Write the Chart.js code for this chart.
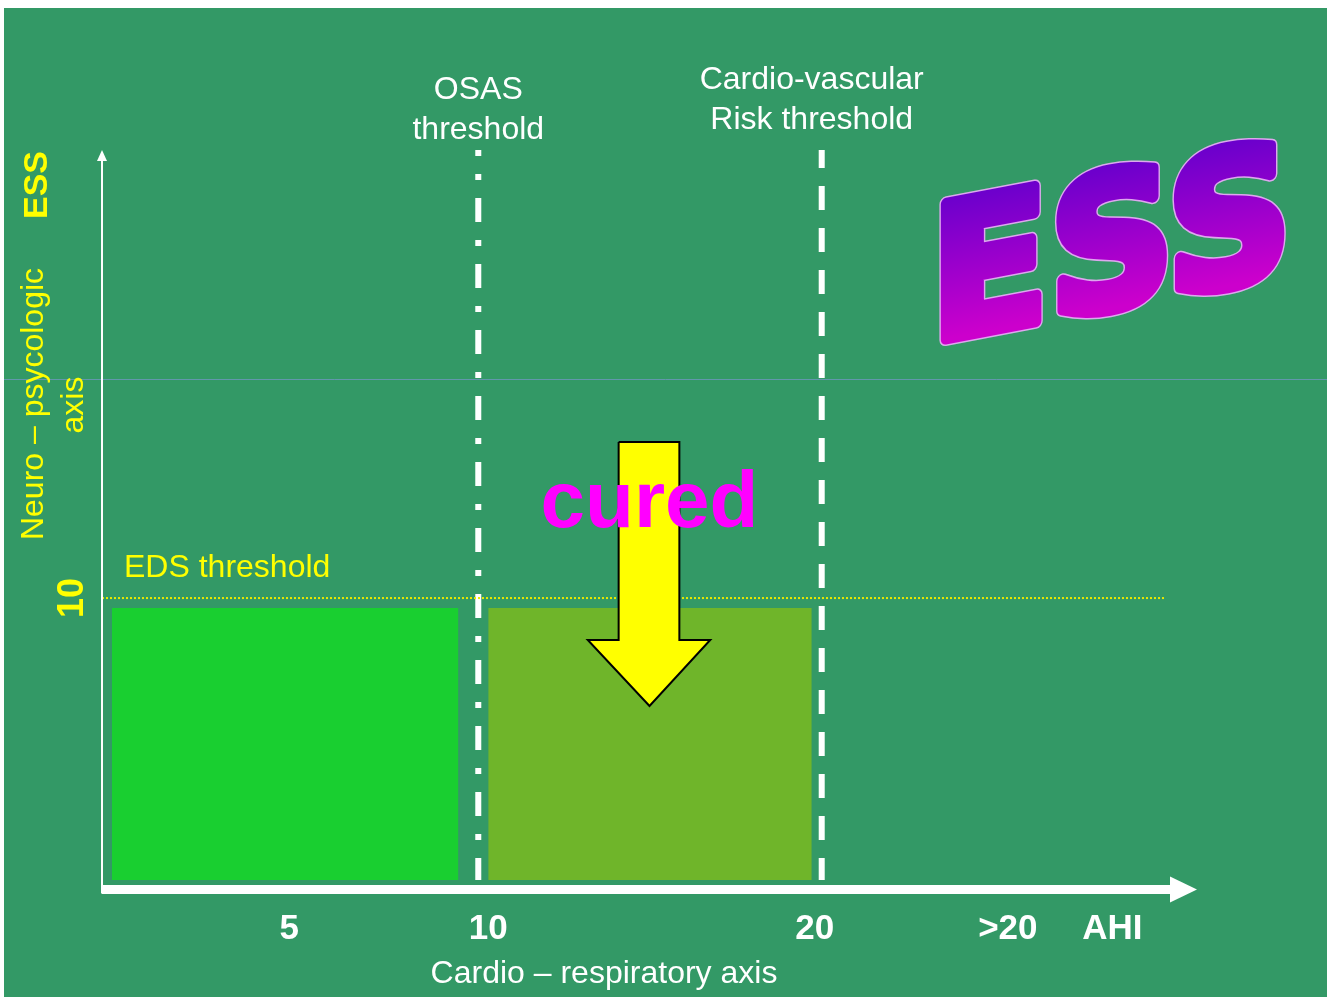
<!DOCTYPE html>
<html>
<head>
<meta charset="utf-8">
<title>ESS / AHI</title>
<script src="https://cdn.jsdelivr.net/npm/chart.js@4.4.1/dist/chart.umd.min.js"></script>
<style>
    html, body { margin: 0; padding: 0; background: #ffffff; overflow: hidden; }
    #wrap { width: 1331px; height: 997px; }
</style>
</head>
<body>
<div id="wrap"><canvas id="essChart" width="1331" height="997"></canvas></div>
<script>
// ===============================
// Data (AHI on x, ESS on y)
// ===============================
const ahiAxisMax = 110;
const essAxisMax = 25.4;

const xTickPos = [18.8, 38.8, 71.6, 91.0, 101.5];
const xTickLabels = ['5', '10', '20', '>20', 'AHI'];

// green zones under the EDS threshold
const zoneLabels = ['AHI < 10', 'AHI 10-20'];
const zoneStart = [1.0, 38.8];
const zoneEnd = [35.8, 71.3];
const zoneTop = [9.66, 9.66];
const zoneBase = 0.31;

// vertical thresholds
const thresholdNames = [['OSAS', 'threshold'], ['Cardio-vascular', 'Risk threshold']];
const thresholdX = [37.8, 72.3];

// horizontal EDS threshold
const edsThreshold = 10;
const edsEnd = 106.8;

// "cured" arrow outline
const arrowX = [51.9, 58.0, 58.0, 61.1, 55.0, 48.8, 51.9, 51.9];
const arrowY = [15.36, 15.36, 8.56, 8.56, 6.29, 8.56, 8.56, 15.36];

const FONT = '"Liberation Sans", Arial, sans-serif';
const BG = '#339966';
const YELLOW = '#ffff00';

// ===============================
// Slide decorations plugin
// ===============================
const slidePlugin = {
    id: 'slideDecor',
    beforeDraw(chart) {
        const ctx = chart.ctx;
        ctx.save();
        ctx.fillStyle = '#ffffff';
        ctx.fillRect(0, 0, chart.width, chart.height);
        ctx.fillStyle = BG;
        ctx.fillRect(4, 8, 1323, 989);
        // faint seam line across the slide
        ctx.strokeStyle = 'rgba(110,150,190,0.8)';
        ctx.lineWidth = 1;
        ctx.beginPath();
        ctx.moveTo(4, 379.5);
        ctx.lineTo(1327, 379.5);
        ctx.stroke();
        ctx.restore();
    },
    afterDraw(chart) {
        const ctx = chart.ctx;
        const area = chart.chartArea;
        const x = chart.scales.x;
        const y = chart.scales.y;
        ctx.save();

        // axes with arrow heads
        ctx.fillStyle = '#ffffff';
        ctx.strokeStyle = '#ffffff';
        ctx.lineWidth = 9;
        const axY = area.bottom + 0.5;
        ctx.beginPath();
        ctx.moveTo(area.left, axY);
        ctx.lineTo(area.right - 26, axY);
        ctx.stroke();
        ctx.beginPath();
        ctx.moveTo(area.right - 27, axY - 13);
        ctx.lineTo(area.right, axY);
        ctx.lineTo(area.right - 27, axY + 13);
        ctx.closePath();
        ctx.fill();

        ctx.lineWidth = 2;
        ctx.beginPath();
        ctx.moveTo(area.left, axY + 4);
        ctx.lineTo(area.left, area.top + 10);
        ctx.stroke();
        ctx.beginPath();
        ctx.moveTo(area.left - 5, area.top + 11);
        ctx.lineTo(area.left, area.top);
        ctx.lineTo(area.left + 5, area.top + 11);
        ctx.closePath();
        ctx.fill();

        // threshold titles
        ctx.fillStyle = '#ffffff';
        ctx.font = '32px ' + FONT;
        ctx.textAlign = 'center';
        ctx.textBaseline = 'alphabetic';
        const osasX = x.getPixelForValue(thresholdX[0]);
        ctx.fillText(thresholdNames[0][0], osasX, 99);
        ctx.fillText(thresholdNames[0][1], osasX, 139);
        const cvX = x.getPixelForValue(thresholdX[1]) - 10;
        ctx.fillText(thresholdNames[1][0], cvX, 89);
        ctx.fillText(thresholdNames[1][1], cvX, 129);

        // x axis title (sits left of the plot centre on the slide)
        ctx.fillText('Cardio \u2013 respiratory axis', 604, 983);

        // EDS threshold label
        ctx.fillStyle = YELLOW;
        ctx.textAlign = 'left';
        ctx.fillText('EDS threshold', area.left + 22, y.getPixelForValue(edsThreshold) - 21);

        // rotated y-axis labels
        const rot = (text, bx, cy, font) => {
            ctx.save();
            ctx.translate(bx, cy);
            ctx.rotate(-Math.PI / 2);
            ctx.font = font;
            ctx.textAlign = 'center';
            ctx.fillText(text, 0, 0);
            ctx.restore();
        };
        rot('ESS', 47, 185, 'bold 34px ' + FONT);
        rot('Neuro \u2013 psycologic', 43, 404, '32px ' + FONT);
        rot('axis', 83, 405, '32px ' + FONT);
        rot('10', 83, y.getPixelForValue(edsThreshold), 'bold 36px ' + FONT);

        // "cured" over the arrow
        ctx.fillStyle = '#ff00ff';
        ctx.font = 'bold 80px ' + FONT;
        ctx.textAlign = 'center';
        ctx.fillText('cured', x.getPixelForValue(55.0), y.getPixelForValue(12.44));

        // ESS word art (heavy, skewed, gradient)
        ctx.save();
        ctx.translate(930, 342);
        ctx.transform(1, -0.19, 0, 1, 0, 0);
        ctx.font = 'bold 186px "DejaVu Sans", ' + FONT;
        ctx.textAlign = 'left';
        ctx.lineJoin = 'round';
        const w = ctx.measureText('ESS').width;
        ctx.scale(362 / w, 1);
        const grad = ctx.createLinearGradient(0, -150, 0, 0);
        grad.addColorStop(0, '#6600cc');
        grad.addColorStop(1, '#cc00cc');
        ctx.strokeStyle = '#dda8ee';
        ctx.lineWidth = 14;
        ctx.strokeText('ESS', 0, 0);
        ctx.strokeStyle = grad;
        ctx.lineWidth = 11;
        ctx.strokeText('ESS', 0, 0);
        ctx.fillStyle = grad;
        ctx.fillText('ESS', 0, 0);
        ctx.restore();

        ctx.restore();
    }
};

// ===============================
// Datasets
// ===============================
const datasets = [];

zoneLabels.forEach((name, i) => {
    datasets.push({
        label: name,
        data: [{ x: zoneStart[i], y: zoneTop[i] }, { x: zoneEnd[i], y: zoneTop[i] }],
        fill: { value: zoneBase },
        backgroundColor: i === 0 ? '#19cf30' : '#6fb52a',
        borderColor: 'rgba(0,0,0,0)',
        borderWidth: 0,
        pointRadius: 0,
        order: 3
    });
});

thresholdNames.forEach((name, i) => {
    datasets.push({
        label: name.join(' '),
        data: [{ x: thresholdX[i], y: essAxisMax }, { x: thresholdX[i], y: zoneBase }],
        borderColor: '#ffffff',
        borderWidth: 6,
        borderDash: i === 0 ? [24, 18, 6, 18] : [24, 18],
        borderDashOffset: i === 0 ? 18 : 6,
        borderCapStyle: 'butt',
        fill: false,
        pointRadius: 0,
        order: 2
    });
});

datasets.push({
    label: 'EDS threshold',
    data: [{ x: 0, y: edsThreshold }, { x: edsEnd, y: edsThreshold }],
    borderColor: '#e8e800',
    borderWidth: 2,
    borderDash: [2, 2],
    fill: false,
    pointRadius: 0,
    order: 1
});

datasets.push({
    label: 'cured',
    data: arrowX.map((v, i) => ({ x: v, y: arrowY[i] })),
    fill: 'shape',
    backgroundColor: '#ffff00',
    borderColor: '#000000',
    borderWidth: 2,
    borderJoinStyle: 'miter',
    pointRadius: 0,
    tension: 0,
    order: 0
});

// ===============================
// Chart
// ===============================
new Chart(document.getElementById('essChart').getContext('2d'), {
    type: 'line',
    data: { datasets: datasets },
    options: {
        responsive: false,
        animation: false,
        devicePixelRatio: 1,
        layout: { padding: { left: 102, right: 134, top: 150, bottom: 28 } },
        plugins: {
            legend: { display: false },
            tooltip: { enabled: false }
        },
        scales: {
            x: {
                type: 'linear',
                min: 0,
                max: ahiAxisMax,
                grid: { display: false, drawTicks: false },
                border: { display: false },
                afterBuildTicks: axis => {
                    axis.ticks = xTickPos.map(v => ({ value: v }));
                },
                ticks: {
                    autoSkip: false,
                    maxRotation: 0,
                    padding: 19,
                    color: '#ffffff',
                    font: { family: FONT, size: 35, weight: 'bold' },
                    callback: (value, index) => xTickLabels[index]
                }
            },
            y: {
                type: 'linear',
                min: 0,
                max: essAxisMax,
                display: false
            }
        }
    },
    plugins: [slidePlugin]
});
</script>
</body>
</html>
